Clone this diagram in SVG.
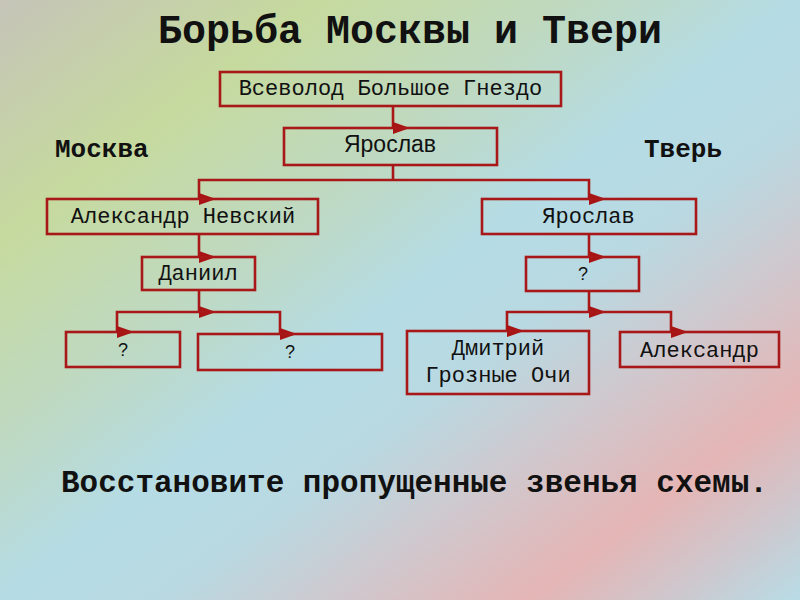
<svg xmlns="http://www.w3.org/2000/svg" width="800" height="600" viewBox="0 0 800 600">
<defs>
<linearGradient id="bg" x1="0" y1="0" x2="1" y2="1">
<stop offset="0" stop-color="#c5c4b8"/>
<stop offset="0.2" stop-color="#c6da9e"/>
<stop offset="0.36" stop-color="#bfd9c0"/>
<stop offset="0.5" stop-color="#b5dce5"/>
<stop offset="0.6" stop-color="#b9d9e2"/>
<stop offset="0.7" stop-color="#cdcad0"/>
<stop offset="0.83" stop-color="#e5b5b5"/>
<stop offset="0.92" stop-color="#cdc8ce"/>
<stop offset="1" stop-color="#b8dce6"/>
</linearGradient>
<marker id="ar" markerUnits="userSpaceOnUse" markerWidth="20" markerHeight="14" refX="1" refY="7" orient="0" overflow="visible">
<path d="M1,1 L18,7 L1,13 Z" fill="#a81414"/>
</marker>
<style>
.box{fill:none;stroke:#a81818;stroke-width:2.6}
.ln{fill:none;stroke:#a81818;stroke-width:2.6;marker-end:url(#ar)}
.ln0{fill:none;stroke:#a81818;stroke-width:2.6}
.m{font-family:"Liberation Mono","DejaVu Sans Mono",monospace;font-size:22px;fill:#111;text-anchor:middle}
.s{font-family:"Liberation Sans",Arial,sans-serif;fill:#111;text-anchor:middle}
.h{font-family:"Liberation Mono","DejaVu Sans Mono",monospace;font-weight:bold;fill:#111}
</style>
</defs>
<rect width="800" height="600" fill="url(#bg)"/>
<text class="h" x="158" y="43" font-size="40">Борьба Москвы и Твери</text>
<text class="h" x="55" y="157" font-size="26">Москва</text>
<text class="h" x="644" y="157" font-size="26">Тверь</text>
<text class="h" x="61" y="492" font-size="31">Восстановите пропущенные звенья схемы.</text>
<g id="connectors">
<path class="ln" d="M393,106 V128"/>
<path class="ln0" d="M393,165 V180"/>
<path class="ln" d="M393,180 H199 V199"/>
<path class="ln" d="M393,180 H589 V199"/>
<path class="ln" d="M199,234 V257"/>
<path class="ln" d="M199,290 V312"/>
<path class="ln" d="M199,312 H117 V332"/>
<path class="ln" d="M199,312 H280 V334"/>
<path class="ln" d="M589,234 V257"/>
<path class="ln" d="M589,291 V312"/>
<path class="ln" d="M589,312 H507 V331"/>
<path class="ln" d="M589,312 H671 V332"/>
</g>
<g id="vsevolod"><rect class="box" x="220" y="72" width="341" height="34"/><text class="m" x="390.5" y="95">Всеволод Большое Гнездо</text></g>
<g id="yaroslav1"><rect class="box" x="284" y="128" width="213" height="37"/><text class="s" x="390" y="152" font-size="23">Ярослав</text></g>
<g id="nevsky"><rect class="box" x="47" y="199" width="271" height="35"/><text class="m" x="183" y="223">Александр Невский</text></g>
<g id="daniil"><rect class="box" x="142" y="257" width="113" height="33"/><text class="m" x="198" y="280">Даниил</text></g>
<g id="q1"><rect class="box" x="66" y="332" width="114" height="35"/><text class="s" x="123" y="356" font-size="18">?</text></g>
<g id="q2"><rect class="box" x="198" y="334" width="184" height="36"/><text class="s" x="290" y="358" font-size="18">?</text></g>
<g id="yaroslav2"><rect class="box" x="482" y="199" width="214" height="35"/><text class="m" x="588.5" y="223">Ярослав</text></g>
<g id="q3"><rect class="box" x="526" y="257" width="113" height="34"/><text class="s" x="583" y="280" font-size="18">?</text></g>
<g id="dmitry"><rect class="box" x="407" y="331" width="182" height="63"/><text class="m" x="498" y="355">Дмитрий</text><text class="m" x="498" y="382">Грозные Очи</text></g>
<g id="alexandr"><rect class="box" x="620" y="332" width="159" height="35"/><text class="m" x="699.5" y="357">Александр</text></g>
</svg>
